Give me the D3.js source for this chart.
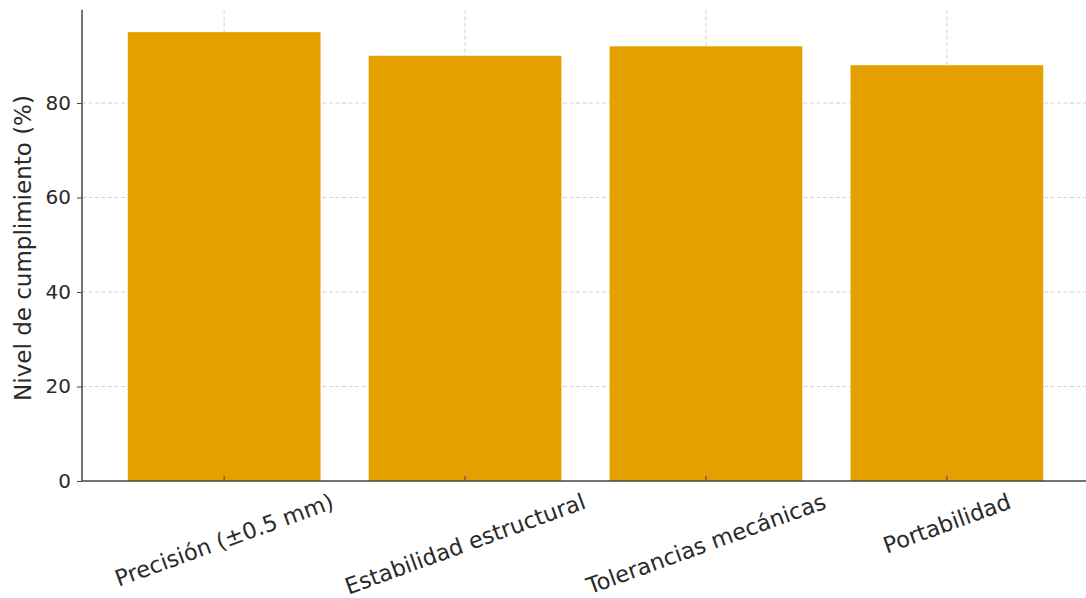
<!DOCTYPE html>
<html><head><meta charset="utf-8">
<script src="https://cdn.jsdelivr.net/npm/d3@7"></script>
<style>body{margin:0;background:#fff}svg{display:block}</style>
</head><body>
<svg id="c" width="1086" height="598"></svg>
<script>
const categories = ["Precisión (±0.5 mm)", "Estabilidad estructural", "Tolerancias mecánicas", "Portabilidad"];
const values = [95, 90, 92, 88];
const yTicks = [0, 20, 40, 60, 80];
const yLabel = "Nivel de cumplimiento (%)";

(function(){
const svg = d3.select("#c");
const mL = 82, mR = 1089, mT = 9.7, mB = 481;
const x = d3.scaleBand().domain(categories).range([mL, mR]).paddingInner(0.2).paddingOuter(0.19);
const y = d3.scaleLinear().domain([0, 99.75]).range([mB, mT]);
const font = "DejaVu Sans, sans-serif";
const txt = "#2a2a2a";

// grid
const g = svg.append("g");
g.selectAll("line.h").data(yTicks.slice(1)).join("line")
  .attr("x1", mL).attr("x2", mR).attr("y1", d => y(d)).attr("y2", d => y(d))
  .attr("stroke", "#d4d4d4").attr("stroke-width", 1).attr("stroke-dasharray", "4,2.5");
g.selectAll("line.v").data(categories).join("line")
  .attr("x1", d => x(d) + x.bandwidth()/2).attr("x2", d => x(d) + x.bandwidth()/2)
  .attr("y1", mT).attr("y2", mB)
  .attr("stroke", "#d4d4d4").attr("stroke-width", 1).attr("stroke-dasharray", "4,2.5");

// bars
svg.append("g").selectAll("rect").data(categories).join("rect")
  .attr("x", d => x(d)).attr("width", x.bandwidth())
  .attr("y", (d, i) => y(values[i])).attr("height", (d, i) => y(0) - y(values[i]))
  .attr("fill", "#E5A000");

// x ticks (inside)
svg.append("g").selectAll("line").data(categories).join("line")
  .attr("x1", d => x(d) + x.bandwidth()/2).attr("x2", d => x(d) + x.bandwidth()/2)
  .attr("y1", mB).attr("y2", mB - 5).attr("stroke", "#444").attr("stroke-width", 1);

// y axis
const ya = svg.append("g").attr("transform", `translate(${mL},0)`)
  .call(d3.axisLeft(y).tickValues(yTicks).tickSize(5).tickPadding(6));
ya.select(".domain").remove();
ya.selectAll(".tick line").attr("stroke", "#444");
ya.selectAll(".tick text").attr("font-family", font).attr("font-size", 20).attr("fill", txt);

// spines
svg.append("line").attr("x1", mL).attr("x2", mL).attr("y1", mT).attr("y2", mB)
  .attr("stroke", "#444").attr("stroke-width", 1.5);
svg.append("line").attr("x1", mL).attr("x2", mR).attr("y1", mB).attr("y2", mB)
  .attr("stroke", "#444").attr("stroke-width", 1.5);

// x labels rotated, bbox top aligned (matplotlib-style va=top)
const fsX = 22.5, ang = 20 * Math.PI / 180, y0 = 488;
const xl = svg.append("g").selectAll("text").data(categories).join("text")
  .attr("text-anchor", "middle").attr("dominant-baseline", "central")
  .attr("font-family", font).attr("font-size", fsX).attr("fill", txt)
  .text(d => d);
xl.each(function(d){
  const w = this.getComputedTextLength();
  const h = fsX * 1.17;
  const bh = w * Math.sin(ang) + h * Math.cos(ang);
  d3.select(this).attr("transform", `translate(${x(d) + x.bandwidth()/2},${y0 + bh/2}) rotate(-20)`);
});

// y label
svg.append("text").attr("transform", `translate(31,248) rotate(-90)`)
  .attr("text-anchor", "middle").attr("font-family", font).attr("font-size", 23).attr("fill", txt)
  .text(yLabel);
})();
</script>
</body></html>
